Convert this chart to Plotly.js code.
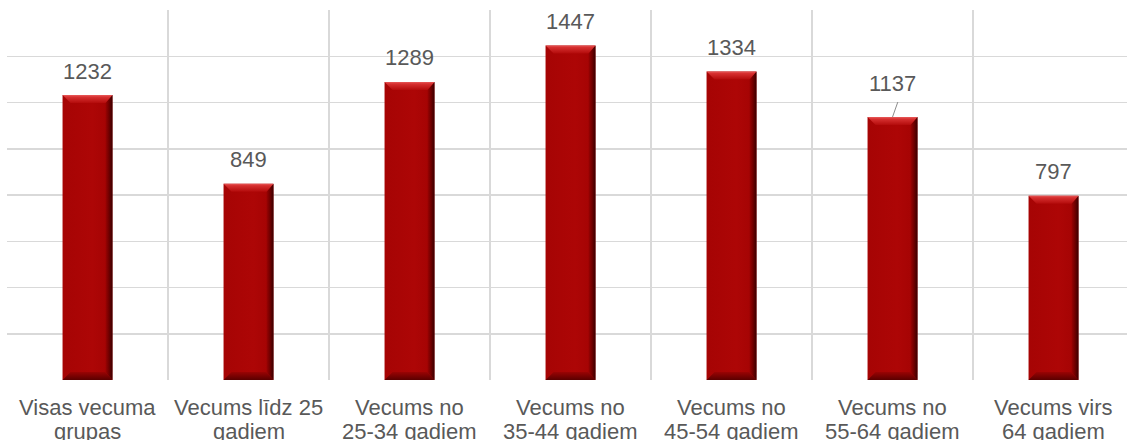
<!DOCTYPE html>
<html>
<head>
<meta charset="utf-8">
<script src="https://cdn.plot.ly/plotly-3.0.1.min.js"></script>
<style>
html,body{margin:0;padding:0;overflow:hidden;background:#fff;}
#chart{width:1127px;height:440px;}
</style>
</head>
<body>
<div id="chart"></div>
<script>
// ---- data ----
const categories = [
  "Visas vecuma<br>grupas",
  "Vecums līdz 25<br>gadiem",
  "Vecums no<br>25-34 gadiem",
  "Vecums no<br>35-44 gadiem",
  "Vecums no<br>45-54 gadiem",
  "Vecums no<br>55-64 gadiem",
  "Vecums virs<br>64 gadiem"
];
const values = [1232, 849, 1289, 1447, 1334, 1137, 797];
const valueLabels = values.map(v => String(v));

// ---- style ----
const textColor = "#595959";
const gridColor = "#d9d9d9";
const fontFam = "Liberation Sans, Arial, sans-serif";
const fs = 22;

const trace = {
  type: "bar",
  x: categories,
  y: values,
  width: 0.31,
  marker: {color: "#a50505", line: {width: 0}},
  hoverinfo: "skip"
};

const gridTrace = {
  type: "scatter", x: [], y: [], xaxis: "x2", yaxis: "y", showlegend: false, hoverinfo: "skip"
};

const xr = [-0.5, 6.5 - 7 / 161];

const annotations = categories.map((c, i) => {
  const special = (i === 5);
  return {
    x: c, y: values[i], xref: "x", yref: "y",
    text: valueLabels[i],
    showarrow: false,
    yanchor: "middle", xanchor: "center",
    yshift: special ? 34 : 24,
    font: {family: fontFam, size: fs, color: textColor}
  };
});
annotations.push({
  x: categories[5], y: values[5], xref: "x", yref: "y",
  text: " ", showarrow: true, arrowhead: 0, arrowwidth: 1, arrowcolor: "#8c8c8c",
  ax: 6, ay: -17, axref: "pixel", ayref: "pixel",
  font: {size: 1}
});
// category labels, one annotation per line (tighter line spacing than Plotly's <br>)
categories.forEach(c => {
  c.split("<br>").forEach((line, k) => {
    annotations.push({
      x: c, y: 0, xref: "x", yref: "paper",
      text: line, showarrow: false,
      xanchor: "center", yanchor: "middle",
      yshift: -27 - 24 * k,
      font: {family: fontFam, size: fs, color: textColor}
    });
  });
});

const layout = {
  width: 1127, height: 440,
  margin: {l: 7, r: 0, t: 10, b: 60, pad: 0},
  paper_bgcolor: "#fff", plot_bgcolor: "#fff",
  showlegend: false,
  font: {family: fontFam, size: fs, color: textColor},
  xaxis: {
    type: "category", range: xr, showgrid: false, zeroline: false,
    showline: false, ticks: "", showticklabels: false, fixedrange: true
  },
  xaxis2: {
    overlaying: "x", anchor: "y", type: "linear", range: xr,
    tick0: -0.5, dtick: 1, showgrid: true, gridcolor: gridColor, gridwidth: 1.5,
    showticklabels: false, ticks: "", zeroline: false, showline: false, layer: "below traces"
  },
  yaxis: {
    range: [0, 1600], dtick: 200, showgrid: true, gridcolor: gridColor, gridwidth: 1.5,
    showticklabels: false, ticks: "", zeroline: false, showline: false, fixedrange: true
  },
  annotations: annotations
};

function addBevels() {
  const svg = document.querySelector("#chart .main-svg");
  const NS = "http://www.w3.org/2000/svg";
  let defs = svg.querySelector("defs");
  if (!defs) { defs = document.createElementNS(NS, "defs"); svg.insertBefore(defs, svg.firstChild); }
  function grad(id, x2, y2, stops) {
    const g = document.createElementNS(NS, "linearGradient");
    g.setAttribute("id", id);
    g.setAttribute("x1", "0"); g.setAttribute("y1", "0");
    g.setAttribute("x2", x2); g.setAttribute("y2", y2);
    stops.forEach(s => {
      const st = document.createElementNS(NS, "stop");
      st.setAttribute("offset", s[0]); st.setAttribute("stop-color", s[1]);
      g.appendChild(st);
    });
    defs.appendChild(g);
  }
  grad("bvTop", "0", "1", [["0", "#e85a5a"], ["0.25", "#d63030"], ["1", "#b30b0b"]]);
  grad("bvRight", "1", "0", [["0", "#9c0303"], ["0.5", "#700000"], ["1", "#3a0000"]]);
  grad("bvBot", "0", "1", [["0", "#9a0404"], ["1", "#5a0000"]]);
  grad("bvBody", "1", "0", [["0", "#a60404"], ["0.6", "#ad0606"], ["1", "#a20303"]]);
  const paths = document.querySelectorAll("#chart .barlayer .point path");
  paths.forEach(p => {
    const bb = p.getBBox();
    const x0 = bb.x, x1 = bb.x + bb.width, y0 = bb.y, y1 = bb.y + bb.height;
    const b = 8, br = 7;
    p.style.fill = "url(#bvBody)";
    function poly(pts, fill) {
      const e = document.createElementNS(NS, "polygon");
      e.setAttribute("points", pts.map(q => q.join(",")).join(" "));
      e.setAttribute("fill", fill);
      p.parentNode.appendChild(e);
    }
    poly([[x0, y1], [x0 + b, y1 - b], [x1 - br, y1 - b], [x1, y1]], "url(#bvBot)");
    poly([[x1 - br, y0 + b], [x1, y0], [x1, y1], [x1 - br, y1 - b]], "url(#bvRight)");
    poly([[x0, y0], [x1, y0], [x1 - br, y0 + b], [x0 + b, y0 + b]], "url(#bvTop)");
  });
}

Plotly.newPlot("chart", [gridTrace, trace], layout, {staticPlot: true, displayModeBar: false})
  .then(addBevels);
</script>
</body>
</html>
